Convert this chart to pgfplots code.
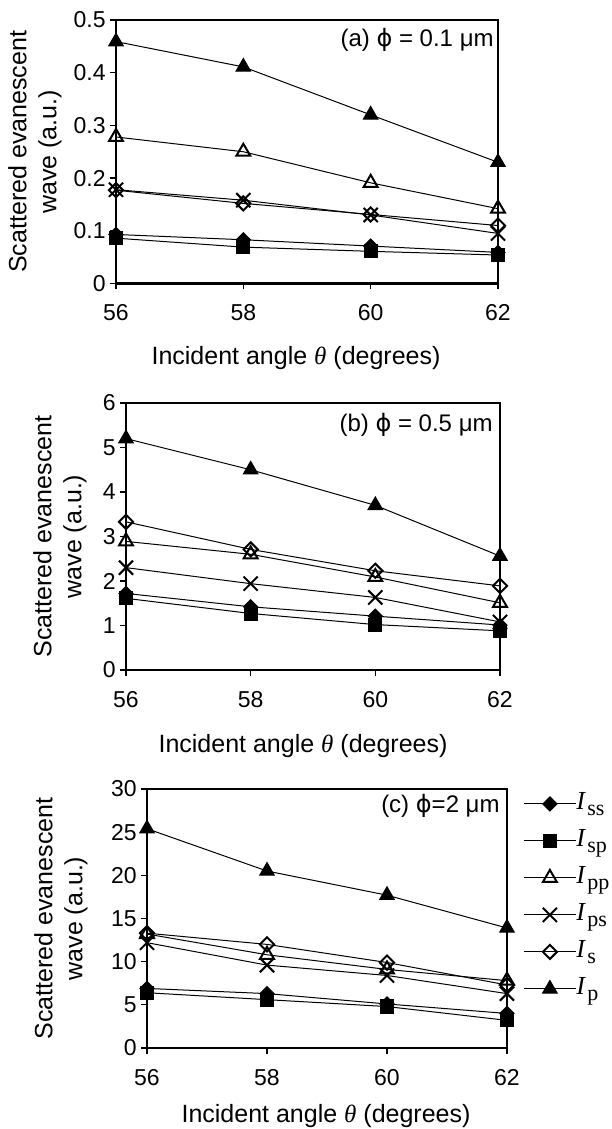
\documentclass[border=0pt]{standalone}
\usepackage{fontspec}
\setmainfont{Liberation Sans}
\newfontfamily\tms{Liberation Serif}
\newfontfamily\dv{DejaVu Sans}
\usepackage{pgfplots}
\pgfplotsset{compat=1.18}
\pgfplotsset{
  panel/.style={
    scale only axis, anchor=south west, xmin=56, xmax=62, xtick={56,58,60,62},
    clip=false, axis line style={line width=1.1pt},
    tick style={black, line width=0.6pt}, tick align=outside, major tick length=3pt,
    xtick pos=bottom, ytick pos=left,
    /pgf/number format/assume math mode=true,
    tick label style={font=\fontsize{11.5}{13}\selectfont},
    yticklabel style={inner sep=0pt, anchor=east, xshift=-2pt},
    xticklabel style={inner sep=0pt, anchor=north, yshift=-7.5pt},
    every axis plot/.append style={black, line width=0.5pt},
  },
  sss/.style={mark=square*, mark size=2.5pt, mark options={rotate=45,solid,fill=black}},
  ssp/.style={mark=square*, mark size=3.3pt, mark options={solid,fill=black}},
  spp/.style={mark=triangle, mark size=4pt, mark options={solid,fill=white,line width=1pt}},
  sps/.style={mark=x, mark size=5pt, mark options={solid,line width=1pt}},
  ss/.style={mark=square, mark size=2.5pt, mark options={rotate=45,solid,fill=white,line width=1pt}},
  sp/.style={mark=triangle*, mark size=4.2pt, mark options={solid,fill=black}},
}
\newcommand{\lab}{\fontsize{12.5}{15}\selectfont}
\newcommand{\leg}[1]{\textit{I}\kern0.6pt\raisebox{-3pt}{\fontsize{11}{13}\selectfont #1}}
\begin{document}
\begin{tikzpicture}
% ---------- (a)
\begin{axis}[panel, at={(58pt,422.75pt)}, width=191pt, height=131.75pt,
  ymin=0, ymax=0.5, ytick={0,0.1,0.2,0.3,0.4,0.5}]
\addplot[ss] coordinates {(56,0.177) (58,0.152) (60,0.131) (62,0.110)};
\addplot[sss] coordinates {(56,0.093) (58,0.083) (60,0.071) (62,0.059)};
\addplot[ssp] coordinates {(56,0.086) (58,0.069) (60,0.061) (62,0.054)};
\addplot[spp] coordinates {(56,0.278) (58,0.250) (60,0.191) (62,0.142)};
\addplot[sps] coordinates {(56,0.178) (58,0.158) (60,0.130) (62,0.095)};
\addplot[sp] coordinates {(56,0.459) (58,0.411) (60,0.320) (62,0.230)};
\node[anchor=east, inner sep=0pt, xshift=-2pt, yshift=-10pt, font=\fontsize{12}{14}\selectfont] at (rel axis cs:1,1) {(a) {\dv ϕ} = 0.1 μm};
\end{axis}
% ---------- (b)
\begin{axis}[panel, at={(63pt,229.5pt)}, width=187pt, height=133.5pt,
  ymin=0, ymax=6, ytick={0,1,2,3,4,5,6}]
\addplot[ss] coordinates {(56,3.33) (58,2.71) (60,2.23) (62,1.89)};
\addplot[sss] coordinates {(56,1.72) (58,1.42) (60,1.21) (62,1.01)};
\addplot[ssp] coordinates {(56,1.61) (58,1.27) (60,1.02) (62,0.88)};
\addplot[spp] coordinates {(56,2.89) (58,2.60) (60,2.09) (62,1.51)};
\addplot[sps] coordinates {(56,2.30) (58,1.94) (60,1.63) (62,1.08)};
\addplot[sp] coordinates {(56,5.20) (58,4.50) (60,3.70) (62,2.56)};
\node[anchor=east, inner sep=0pt, xshift=-3.5pt, yshift=-11pt, font=\fontsize{12}{14}\selectfont] at (rel axis cs:1,1) {(b) {\dv ϕ} = 0.5 μm};
\end{axis}
% ---------- (c)
\begin{axis}[panel, at={(73.5pt,40.5pt)}, width=180pt, height=129.5pt,
  ymin=0, ymax=30, ytick={0,5,10,15,20,25,30},
  legend style={draw=none, fill=none, at={(axis description cs:1,1)}, anchor=north west,
    xshift=8pt, yshift=-1pt, inner sep=0pt, row sep=6pt,
    font=\tms\fontsize{13}{15}\selectfont,
    nodes={inner sep=0pt, text height=9pt, text depth=3.5pt},
    /tikz/every even column/.append style={column sep=1.5pt}},
  legend cell align=left,
  legend image code/.code={\draw[mark repeat=2,mark phase=2] plot coordinates {(0pt,0pt) (13pt,0pt) (26pt,0pt)};}]
\addplot[sss] coordinates {(56,6.9) (58,6.3) (60,5.1) (62,4.0)};
\addlegendentry{\leg{ss}}
\addplot[ssp] coordinates {(56,6.4) (58,5.6) (60,4.8) (62,3.2)};
\addlegendentry{\leg{sp}}
\addplot[spp] coordinates {(56,13.2) (58,10.8) (60,9.1) (62,7.8)};
\addlegendentry{\leg{pp}}
\addplot[sps] coordinates {(56,12.2) (58,9.6) (60,8.4) (62,6.3)};
\addlegendentry{\leg{ps}}
\addplot[ss] coordinates {(56,13.3) (58,12.0) (60,9.9) (62,7.3)};
\addlegendentry{\leg{s}}
\addplot[sp] coordinates {(56,25.4) (58,20.5) (60,17.7) (62,13.9)};
\addlegendentry{\leg{p}}
\node[anchor=east, inner sep=0pt, xshift=-3.5pt, yshift=-8.5pt, font=\fontsize{12}{14}\selectfont] at (rel axis cs:1,1) {(c) {\dv ϕ}=2 μm};
\end{axis}
% ---------- labels
\node[rotate=90, align=center, font=\lab] at (17.5pt,488.6pt) {Scattered evanescent\\wave (a.u.)};
\node[rotate=90, align=center, font=\lab] at (30pt,296.25pt) {Scattered evanescent\\wave (a.u.)};
\node[rotate=90, align=center, font=\lab] at (30.5pt,105.25pt) {Scattered evanescent\\wave (a.u.)};
\node[anchor=base, font=\lab] at (148pt,382pt) {Incident angle {\tms\itshape θ} (degrees)};
\node[anchor=base, font=\lab] at (151.5pt,188pt) {Incident angle {\tms\itshape θ} (degrees)};
\node[anchor=base, font=\lab] at (163pt,3pt) {Incident angle {\tms\itshape θ} (degrees)};
\pgfresetboundingbox
\path (0pt,0pt) rectangle (305.5pt,564.5pt);
\end{tikzpicture}
\end{document}
